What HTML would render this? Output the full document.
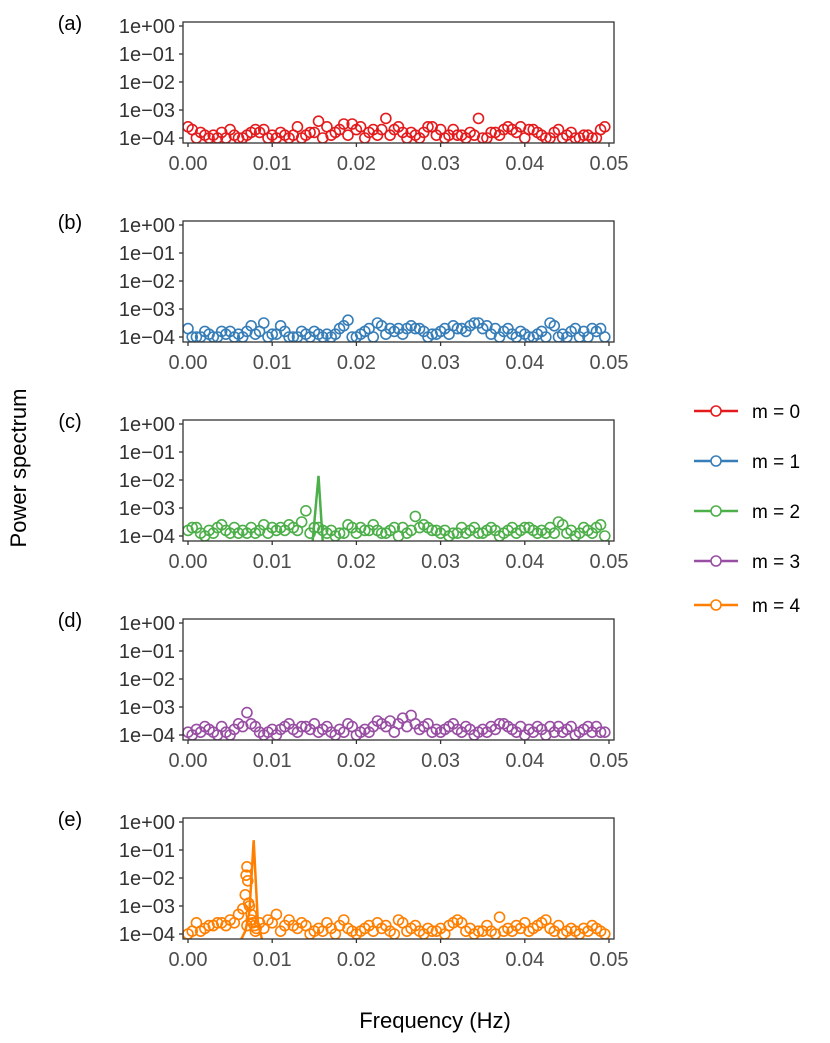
<!DOCTYPE html>
<html><head><meta charset="utf-8"><style>
body{margin:0;background:#fff;font-family:"Liberation Sans",sans-serif}
svg text{font-family:"Liberation Sans",sans-serif}
</style></head><body>
<svg id="chart" width="830" height="1038" viewBox="0 0 830 1038">
<text x="26" y="468" transform="rotate(-90 26 468)" text-anchor="middle" font-size="22" fill="#000">Power spectrum</text>
<text x="435" y="1028" text-anchor="middle" font-size="22" fill="#000">Frequency (Hz)</text>
</svg>
<script>
const panelLabels = ["(a)","(b)","(c)","(d)","(e)"];
const seriesNames = ["m = 0","m = 1","m = 2","m = 3","m = 4"];
const colors = ["#e41a1c","#377eb8","#4daf4a","#984ea3","#ff7f00"];
const yTicks = [0,-1,-2,-3,-4];
const yTickLabels = ["1e+00","1e\u221201","1e\u221202","1e\u221203","1e\u221204"];
const xTicks = [0,0.01,0.02,0.03,0.04,0.05];
const xTickLabels = ["0.00","0.01","0.02","0.03","0.04","0.05"];
const freqStep = 0.0005;
// log10 power values, one per frequency bin
const valsA = [-3.6,-3.7,-4.0,-3.8,-3.9,-4.0,-3.9,-4.0,-3.8,-4.0,-3.7,-3.9,-4.0,-4.0,-3.9,-3.8,-3.7,-3.8,-3.7,-4.0,-3.9,-4.0,-3.8,-3.9,-4.0,-3.9,-3.6,-4.0,-3.9,-3.8,-3.8,-3.4,-4.0,-3.6,-3.9,-3.8,-3.7,-3.5,-3.9,-3.5,-3.7,-3.6,-4.0,-3.8,-3.7,-3.9,-3.7,-3.3,-3.9,-3.7,-3.6,-3.8,-4.0,-3.8,-3.9,-4.0,-3.8,-3.6,-3.6,-3.9,-3.7,-4.0,-3.9,-3.7,-3.9,-3.9,-4.0,-3.8,-3.9,-3.3,-4.0,-4.0,-3.8,-3.8,-3.9,-3.7,-3.6,-3.7,-3.8,-3.6,-4.0,-3.7,-3.7,-3.8,-3.9,-4.0,-4.0,-3.8,-3.7,-4.0,-3.9,-3.8,-4.0,-4.0,-3.9,-3.9,-4.0,-4.0,-3.7,-3.6];
const valsB = [-3.7,-4.0,-4.0,-4.0,-3.8,-3.9,-4.0,-4.0,-3.8,-3.9,-3.8,-4.0,-3.9,-4.0,-3.8,-3.6,-3.9,-3.8,-3.5,-4.0,-3.9,-3.9,-3.6,-3.8,-4.0,-4.0,-4.0,-3.8,-3.9,-4.0,-3.8,-3.9,-4.0,-3.9,-4.0,-3.9,-3.7,-3.6,-3.4,-4.0,-4.0,-3.9,-3.8,-3.7,-4.0,-3.5,-3.6,-3.9,-3.7,-3.8,-3.7,-3.9,-3.7,-3.6,-3.7,-3.7,-3.8,-4.0,-3.9,-3.9,-3.8,-3.7,-3.9,-3.6,-3.7,-3.7,-3.8,-3.6,-3.5,-3.5,-3.7,-3.6,-3.9,-3.7,-4.0,-3.8,-3.7,-3.9,-4.0,-3.8,-3.9,-4.0,-4.0,-3.9,-3.8,-4.0,-3.5,-3.6,-4.0,-3.9,-4.0,-3.8,-3.7,-4.0,-3.8,-4.0,-3.7,-3.8,-3.7,-4.0];
const valsC = [-3.8,-3.7,-3.7,-3.9,-4.0,-3.8,-3.9,-3.7,-3.6,-3.8,-3.9,-3.7,-3.9,-3.8,-3.9,-3.7,-3.9,-3.8,-3.6,-3.9,-3.7,-3.8,-3.7,-3.8,-3.6,-3.7,-3.8,-3.5,-3.1,-3.9,-3.7,-3.7,-3.8,-3.9,-3.8,-4.0,-3.9,-3.9,-3.6,-3.7,-3.9,-3.7,-3.8,-3.8,-3.6,-3.8,-3.9,-3.9,-3.8,-3.7,-4.0,-3.7,-3.9,-3.8,-3.3,-3.7,-3.6,-3.7,-3.8,-3.8,-3.9,-3.8,-4.0,-3.9,-3.9,-3.7,-3.9,-3.8,-3.7,-3.9,-3.9,-3.8,-3.7,-3.8,-4.0,-3.9,-3.8,-3.7,-3.9,-3.8,-3.7,-3.7,-3.8,-3.9,-3.8,-3.9,-3.7,-3.9,-3.5,-3.6,-3.9,-3.8,-4.0,-3.9,-3.7,-3.8,-3.9,-3.7,-3.6,-4.0];
const valsD = [-3.9,-4.0,-3.8,-3.9,-3.7,-3.8,-3.9,-4.0,-3.7,-3.9,-4.0,-3.8,-3.6,-3.7,-3.2,-3.6,-3.7,-3.9,-4.0,-3.9,-3.8,-4.0,-3.8,-3.7,-3.6,-3.8,-3.9,-3.7,-3.7,-3.8,-3.6,-3.9,-3.8,-3.7,-3.9,-4.0,-3.8,-3.9,-3.6,-3.7,-4.0,-3.9,-3.8,-3.9,-3.7,-3.5,-3.6,-3.7,-3.5,-3.9,-3.6,-3.4,-3.7,-3.3,-3.6,-3.8,-3.7,-3.6,-3.9,-3.8,-3.9,-3.8,-3.7,-3.6,-3.8,-3.9,-3.7,-3.8,-4.0,-3.9,-3.8,-3.9,-3.7,-3.8,-3.6,-3.6,-3.7,-3.8,-3.9,-3.7,-4.0,-3.8,-3.9,-3.7,-3.8,-4.0,-3.7,-3.9,-3.7,-3.9,-3.8,-3.7,-4.0,-3.9,-3.8,-3.7,-3.9,-3.7,-3.9,-3.9];
const valsE = [-4.0,-3.9,-3.6,-3.9,-3.8,-3.7,-3.7,-3.6,-3.6,-3.7,-3.5,-3.6,-3.3,-3.1,-3.7,-3.5,-3.9,-3.6,-3.8,-3.5,-3.6,-3.3,-3.9,-3.7,-3.5,-3.7,-3.8,-3.6,-3.7,-4.0,-3.9,-3.8,-3.9,-3.6,-3.8,-4.0,-3.7,-3.5,-3.8,-3.9,-4.0,-3.9,-3.8,-3.7,-3.9,-3.6,-3.8,-3.7,-3.9,-4.0,-3.5,-3.6,-3.9,-3.8,-3.7,-3.9,-4.0,-3.8,-3.9,-3.9,-3.8,-4.0,-3.7,-3.6,-3.5,-3.6,-3.9,-3.8,-4.0,-3.9,-3.9,-3.7,-3.9,-4.0,-3.4,-3.9,-3.8,-3.9,-3.7,-3.8,-3.6,-3.9,-3.8,-3.7,-3.6,-3.5,-3.8,-3.9,-3.7,-4.0,-3.9,-3.8,-3.9,-4.0,-3.8,-3.9,-3.7,-3.8,-3.9,-4.0];
// extra spike points in panel (e)
const spikeFreqE = [0.0068,0.0069,0.0070,0.0071,0.0072,0.0073,0.0075,0.0077,0.0079,0.0081];
const spikeValsE = [-2.6,-1.9,-1.6,-2.1,-2.9,-3.0,-3.3,-3.6,-3.7,-3.8];
// theoretical spectrum lines (only visible part)
const lineFreqC = [0.0148,0.0155,0.0160];
const lineValsC = [-4.2,-1.85,-4.2];
const lineFreqE = [0.0063,0.0068,0.0073,0.0078,0.0083,0.0088];
const lineValsE = [-4.2,-3.9,-3.2,-0.65,-3.6,-4.2];

const NS="http://www.w3.org/2000/svg";
const svg=document.getElementById('chart');
const L=183,R=614,W=R-L;
const xScale=f=>188+(f/0.05)*421;
function mk(tag,attrs,parent){const e=document.createElementNS(NS,tag);for(const k in attrs)e.setAttribute(k,attrs[k]);(parent||svg).appendChild(e);return e;}
const allVals=[valsA,valsB,valsC,valsD,valsE];
const lines=[null,null,[lineFreqC,lineValsC],null,[lineFreqE,lineValsE]];
for(let p=0;p<5;p++){
  const top=22+p*199, bot=top+121;
  const yScale=v=>top+4+(-v)*28;
  const g=mk('g',{});
  
  
  const lab=mk('text',{x:70,y:top+8,'text-anchor':'middle','font-size':20,fill:'#000'},g);
  lab.textContent=panelLabels[p];
  
  
  const clipId='clip'+p;
  const cp=mk('clipPath',{id:clipId},g);mk('rect',{x:L,y:top,width:W,height:bot-top},cp);
  const marks=mk('g',{'clip-path':'url(#'+clipId+')'},g);
  const vals=allVals[p];
  vals.forEach((v,i)=>{
    const c=mk('circle',{cx:xScale(i*freqStep),cy:yScale(v),r:5,fill:'none',stroke:colors[p],'stroke-width':1.6},marks);
    
    
  });
  if(p===4){spikeFreqE.forEach((f,i)=>{
    const c=mk('circle',{cx:xScale(f),cy:yScale(spikeValsE[i]),r:5,fill:'none',stroke:colors[p],'stroke-width':1.6},marks);
    
    
  });}
  if(lines[p]){
    const [lf,lv]=lines[p];
    const pl=mk('polyline',{points:lf.map((f,i)=>xScale(f)+','+yScale(lv[i])).join(' '),fill:'none',stroke:colors[p],'stroke-width':2.5},marks);
    
    
  }
  const box=mk('rect',{x:L,y:top,width:W,height:bot-top,fill:'none',stroke:'#333','stroke-width':1.3},g);
  
  
  yTicks.forEach((t,i)=>{
    const y=yScale(t);
    mk('line',{x1:L-4,x2:L,y1:y,y2:y,stroke:'#333','stroke-width':1.3},g);
    const tx=mk('text',{x:L-8,y:y+7,'text-anchor':'end','font-size':20,fill:'#333'},g);
    tx.textContent=yTickLabels[i];
    
    
  });
  xTicks.forEach((t,i)=>{
    const x=xScale(t);
    mk('line',{x1:x,x2:x,y1:bot,y2:bot+4,stroke:'#333','stroke-width':1.3},g);
    const tx=mk('text',{x:x,y:bot+27,'text-anchor':'middle','font-size':20,fill:'#4d4d4d'},g);
    tx.textContent=xTickLabels[i];
    
    
  });
}
const legY=[411,461,511,561,605];
seriesNames.forEach((n,i)=>{
  const g=mk('g',{});
  
  
  mk('line',{x1:694,x2:738,y1:legY[i],y2:legY[i],stroke:colors[i],'stroke-width':2.5},g);
  mk('circle',{cx:716,cy:legY[i],r:5,fill:'#fff',stroke:colors[i],'stroke-width':1.6},g);
  const t=mk('text',{x:752,y:legY[i]+7,'font-size':19,fill:'#000'},g);
  t.textContent=n;
});
</script>
</body></html>
